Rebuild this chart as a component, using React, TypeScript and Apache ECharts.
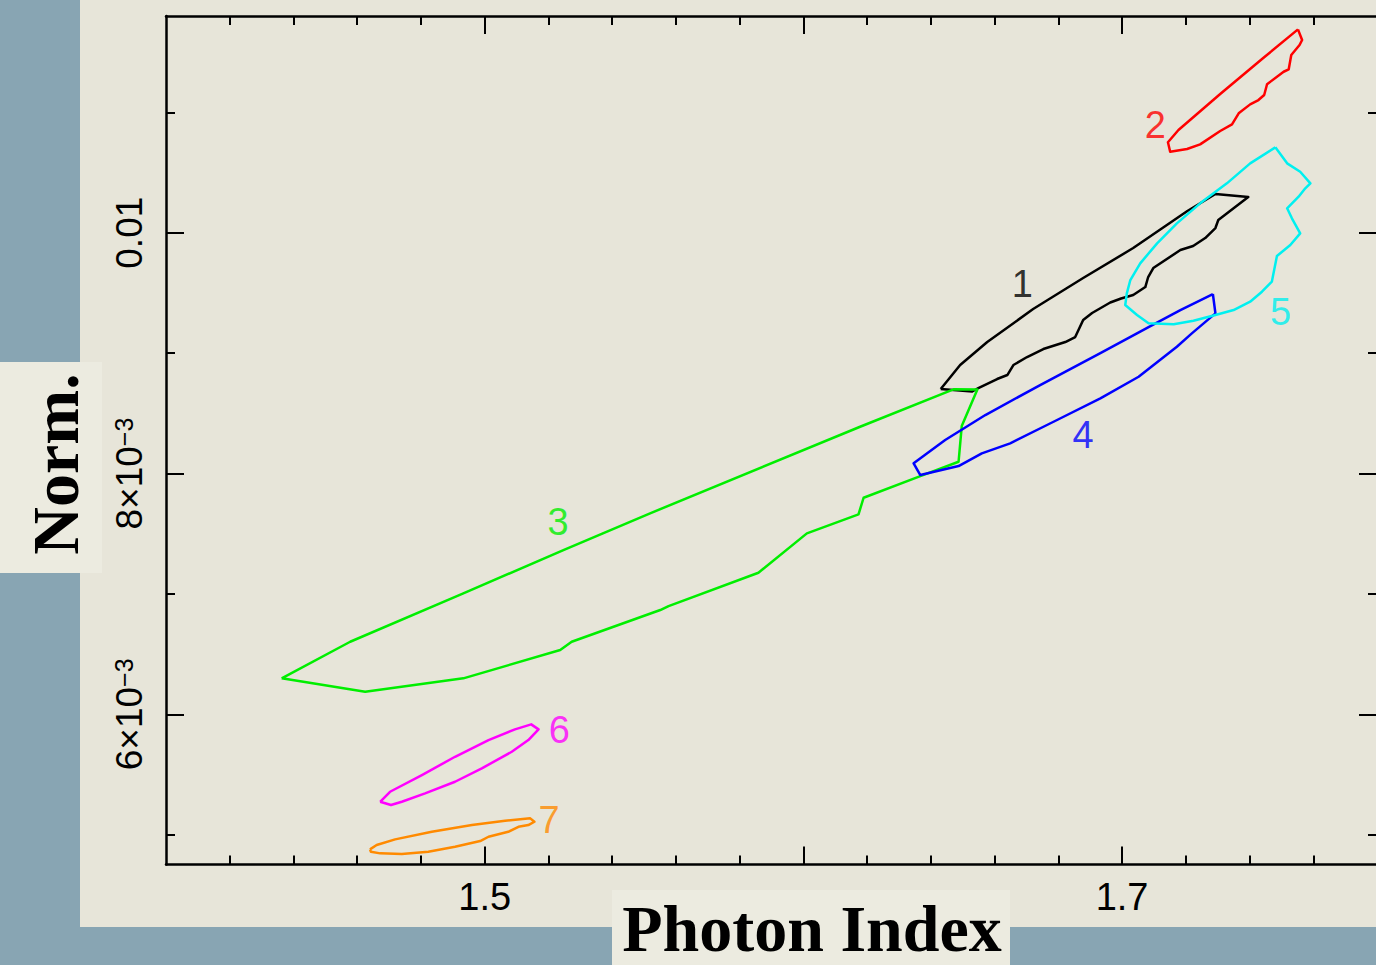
import React, { useEffect, useRef } from "react";
import * as echarts from "echarts";

// ---- axes ----
const X_MIN = 1.4;
const X_MAX = 1.78;
const Y_MIN = 0.004753;
const Y_MAX = 0.0118;

const xLabelValues = [1.5, 1.7];
const xMajorTicks = [1.5, 1.6, 1.7];
const xMinorTicks = [1.42, 1.44, 1.46, 1.48, 1.52, 1.54, 1.56, 1.58, 1.62, 1.64, 1.66, 1.68, 1.72, 1.74, 1.76];
const yLabelValues = [0.006, 0.008, 0.01];
const yMajorTicks = [0.006, 0.008, 0.01];
const yMinorTicks = [0.005, 0.007, 0.009, 0.011];

// ---- contours: [Photon Index, Norm.] ----
const contour1 = [
  [1.6431, 0.0087018], [1.6492, 0.0089012], [1.6577, 0.0090922], [1.6721, 0.0093663],
  [1.6878, 0.0096238], [1.7035, 0.0098729], [1.7205, 0.0101802], [1.7293, 0.0103214],
  [1.7396, 0.0102965], [1.7302, 0.0101055], [1.7293, 0.010039], [1.7261, 0.009956],
  [1.7223, 0.0098895], [1.7183, 0.0098563], [1.7098, 0.0097068], [1.7082, 0.0096321],
  [1.7073, 0.009549], [1.7035, 0.0094826], [1.6997, 0.0094535], [1.6963, 0.0094203],
  [1.6906, 0.0093331], [1.6878, 0.0092749], [1.6853, 0.0091337], [1.6822, 0.0090922],
  [1.6753, 0.0090341], [1.6702, 0.0089676], [1.6659, 0.0089012], [1.664, 0.0088181],
  [1.6608, 0.0087849], [1.6549, 0.0087101], [1.653, 0.0086811],
];
const contour2 = [
  [1.7552, 0.011689], [1.7565, 0.011601], [1.7557, 0.011559], [1.7531, 0.011476],
  [1.7523, 0.011357], [1.7507, 0.011337], [1.7455, 0.011233], [1.7446, 0.011144],
  [1.7428, 0.011102], [1.7402, 0.011066], [1.7366, 0.010992], [1.7355, 0.010944],
  [1.7345, 0.0109], [1.7308, 0.010845], [1.7245, 0.010734], [1.7204, 0.010695],
  [1.7151, 0.010673], [1.7144, 0.010751], [1.7177, 0.010853], [1.7308, 0.011152],
  [1.7443, 0.011451],
];
const contour3 = [
  [1.4363, 0.006299], [1.4578, 0.006603], [1.4933, 0.007005], [1.5247, 0.0073646],
  [1.5519, 0.0076694], [1.6178, 0.0083887], [1.6471, 0.0086993], [1.6546, 0.0086977],
  [1.6497, 0.0083945], [1.6487, 0.008098], [1.6367, 0.0079792], [1.6189, 0.007799],
  [1.6173, 0.0076611], [1.6011, 0.0075033], [1.5859, 0.0071761], [1.5577, 0.0068995],
  [1.5551, 0.0068663], [1.5273, 0.006603], [1.5237, 0.006534], [1.4933, 0.006299],
  [1.4625, 0.0061877],
];
const contour4 = [
  [1.7285, 0.0094909], [1.7293, 0.0093306], [1.7219, 0.0091645], [1.7172, 0.0090532],
  [1.7052, 0.008804], [1.6932, 0.0086246], [1.6785, 0.0084302], [1.6649, 0.0082508],
  [1.656, 0.0081678], [1.6487, 0.0080623], [1.6367, 0.0079875], [1.6346, 0.0080847],
  [1.6445, 0.0082782], [1.6571, 0.0084859], [1.6743, 0.0087351], [1.6932, 0.0090008],
  [1.7089, 0.0092251], [1.7183, 0.009358],
];
const contour5 = [
  [1.7481, 0.0107093], [1.7518, 0.0105764], [1.7559, 0.0105066], [1.7591, 0.0104103],
  [1.7575, 0.0103688], [1.7554, 0.010299], [1.7518, 0.0102027], [1.7533, 0.0101196],
  [1.7559, 0.009995], [1.7528, 0.0098978], [1.7486, 0.0098065], [1.747, 0.009593],
  [1.7439, 0.00951], [1.7402, 0.0094269], [1.735, 0.009358], [1.7293, 0.0093164],
  [1.7224, 0.0092691], [1.7162, 0.0092392], [1.7083, 0.0092475], [1.7047, 0.0093164],
  [1.701, 0.0093995], [1.7015, 0.0094967], [1.7026, 0.0096071], [1.7057, 0.0097458],
  [1.711, 0.009912], [1.7172, 0.0100781], [1.7245, 0.0102442], [1.7329, 0.0104103],
  [1.7402, 0.0105764],
];
const contour6 = [
  [1.4672, 0.0052741], [1.4703, 0.0053571], [1.4803, 0.0054958], [1.4907, 0.0056478],
  [1.5012, 0.0057865], [1.5095, 0.0058754], [1.5146, 0.0059169], [1.5169, 0.0058754],
  [1.5137, 0.0057865], [1.5085, 0.0056894], [1.4991, 0.0055515], [1.4907, 0.0054402],
  [1.4813, 0.0053439], [1.474, 0.0052741], [1.4706, 0.0052467],
];
const contour7 = [
  [1.464, 0.0048787], [1.4661, 0.0049145], [1.4719, 0.0049618], [1.4834, 0.0050249],
  [1.496, 0.0050805], [1.5064, 0.0051163], [1.5143, 0.0051362], [1.5156, 0.005108],
  [1.5137, 0.0050805], [1.5106, 0.0050664], [1.5074, 0.0050249], [1.5012, 0.0049834],
  [1.4986, 0.0049477], [1.4907, 0.0049003], [1.4823, 0.0048588], [1.474, 0.0048397],
  [1.4672, 0.0048455], [1.4643, 0.0048588],
];

const contours = [contour1, contour2, contour3, contour4, contour5, contour6, contour7];
const contourNames = ["1", "2", "3", "4", "5", "6", "7"];
const contourColors = ["#000000", "#ff0000", "#00ee00", "#0000ff", "#00f0f0", "#ff00ff", "#ff8a00"];
const labelX = [1.6687, 1.7104, 1.523, 1.6878, 1.7497, 1.5234, 1.5202];
const labelY = [0.0095739, 0.0108945, 0.0075972, 0.0083198, 0.0093414, 0.0058696, 0.0051221];

const BLUE = "#88a5b3";
const PAPER = "#e7e5d9";
const BOX = "#ecebe0";
const INK = "#000000";
const SANS = "'Liberation Sans', Arial, sans-serif";
const SERIF = "'Liberation Serif', 'Times New Roman', serif";

function yFmt(v: number) {
  if (v > 0.0095) return "0.01";
  return `${Math.round(v * 1000)}×10{s|−3}`;
}

export default function App() {
  const ref = useRef<HTMLDivElement>(null);
  useEffect(() => {
    if (!ref.current) return;
    const chart = echarts.init(ref.current, undefined, { renderer: "svg" });

    const axisLine = { show: true, onZero: false, lineStyle: { color: INK, width: 2.5 } };
    const noLine = { show: false, onZero: false };
    const base = { type: "value", splitLine: { show: false }, gridIndex: 0 };

    const xAxes = [
      {
        ...base, min: X_MIN, max: X_MAX, position: "bottom", axisLine,
        axisTick: { show: true, inside: true, length: 18, customValues: xMajorTicks, lineStyle: { color: INK, width: 2 } },
        axisLabel: { show: true, customValues: xLabelValues, margin: 13, color: INK, fontSize: 38, fontFamily: SANS, formatter: (v: number) => v.toFixed(1) },
      },
      {
        ...base, min: X_MIN, max: X_MAX, position: "bottom", axisLine: noLine,
        axisTick: { show: true, inside: true, length: 9, customValues: xMinorTicks, lineStyle: { color: INK, width: 2 } },
        axisLabel: { show: false },
      },
      {
        ...base, min: X_MIN, max: X_MAX, position: "top", axisLine,
        axisTick: { show: true, inside: true, length: 18, customValues: xMajorTicks, lineStyle: { color: INK, width: 2 } },
        axisLabel: { show: false },
      },
      {
        ...base, min: X_MIN, max: X_MAX, position: "top", axisLine: noLine,
        axisTick: { show: true, inside: true, length: 9, customValues: xMinorTicks, lineStyle: { color: INK, width: 2 } },
        axisLabel: { show: false },
      },
    ];
    const yAxes = [
      {
        ...base, min: Y_MIN, max: Y_MAX, position: "left", axisLine,
        axisTick: { show: true, inside: true, length: 18, customValues: yMajorTicks, lineStyle: { color: INK, width: 2 } },
        axisLabel: {
          show: true, customValues: yLabelValues, rotate: 90, margin: 18, color: INK,
          fontSize: 37, fontFamily: SANS, formatter: yFmt,
          rich: { s: { fontSize: 25, fontFamily: SANS, color: INK, verticalAlign: "top", lineHeight: 25 } },
        },
      },
      {
        ...base, min: Y_MIN, max: Y_MAX, position: "left", axisLine: noLine,
        axisTick: { show: true, inside: true, length: 9, customValues: yMinorTicks, lineStyle: { color: INK, width: 2 } },
        axisLabel: { show: false },
      },
      {
        ...base, min: Y_MIN, max: Y_MAX, position: "right", axisLine,
        axisTick: { show: true, inside: true, length: 18, customValues: yMajorTicks, lineStyle: { color: INK, width: 2 } },
        axisLabel: { show: false },
      },
      {
        ...base, min: Y_MIN, max: Y_MAX, position: "right", axisLine: noLine,
        axisTick: { show: true, inside: true, length: 9, customValues: yMinorTicks, lineStyle: { color: INK, width: 2 } },
        axisLabel: { show: false },
      },
    ];

    const lineSeries = contours.map((pts, i) => ({
      type: "line",
      name: contourNames[i],
      xAxisIndex: 0,
      yAxisIndex: 0,
      data: [...pts, pts[0]],
      showSymbol: false,
      symbol: "none",
      smooth: false,
      silent: true,
      lineStyle: { color: contourColors[i], width: 2.5, join: "round" },
      z: 3,
    }));

    const labelSeries = {
      type: "scatter",
      xAxisIndex: 0,
      yAxisIndex: 0,
      symbolSize: 1,
      silent: true,
      itemStyle: { color: "rgba(0,0,0,0)" },
      z: 4,
      data: contourNames.map((n, i) => ({
        name: n,
        value: [labelX[i], labelY[i]],
        label: { color: contourColors[i] },
      })),
      label: { show: true, position: "inside", formatter: "{b}", fontSize: 38, fontFamily: SANS },
    };

    chart.setOption({
      animation: false,
      backgroundColor: BLUE,
      grid: { left: 166, top: 16, width: 1211, height: 848.5, containLabel: false, outerBoundsMode: "none" },
      xAxis: xAxes,
      yAxis: yAxes,
      series: [...lineSeries, labelSeries],
      graphic: [
        { type: "rect", z: -10, silent: true, shape: { x: 80, y: 0, width: 1296, height: 927 }, style: { fill: PAPER } },
        { type: "rect", z: -9, silent: true, shape: { x: 0, y: 362, width: 102, height: 211 }, style: { fill: BOX } },
        { type: "rect", z: -9, silent: true, shape: { x: 612, y: 890, width: 398, height: 75 }, style: { fill: BOX } },
        {
          type: "text", z: 5, silent: true, x: 55, y: 464, rotation: Math.PI / 2,
          style: { text: "Norm.", fill: INK, font: `bold 66px ${SERIF}`, align: "center", verticalAlign: "middle" },
        },
        {
          type: "text", z: 5, silent: true, x: 812, y: 928,
          style: { text: "Photon Index", fill: INK, font: `bold 66px ${SERIF}`, align: "center", verticalAlign: "middle" },
        },
      ],
    });
    return () => chart.dispose();
  }, []);

  return (
    <div style={{ position: "fixed", left: 0, top: 0, width: 1376, height: 965, overflow: "hidden" }}>
      <div ref={ref} style={{ width: 1376, height: 965 }} />
    </div>
  );
}
